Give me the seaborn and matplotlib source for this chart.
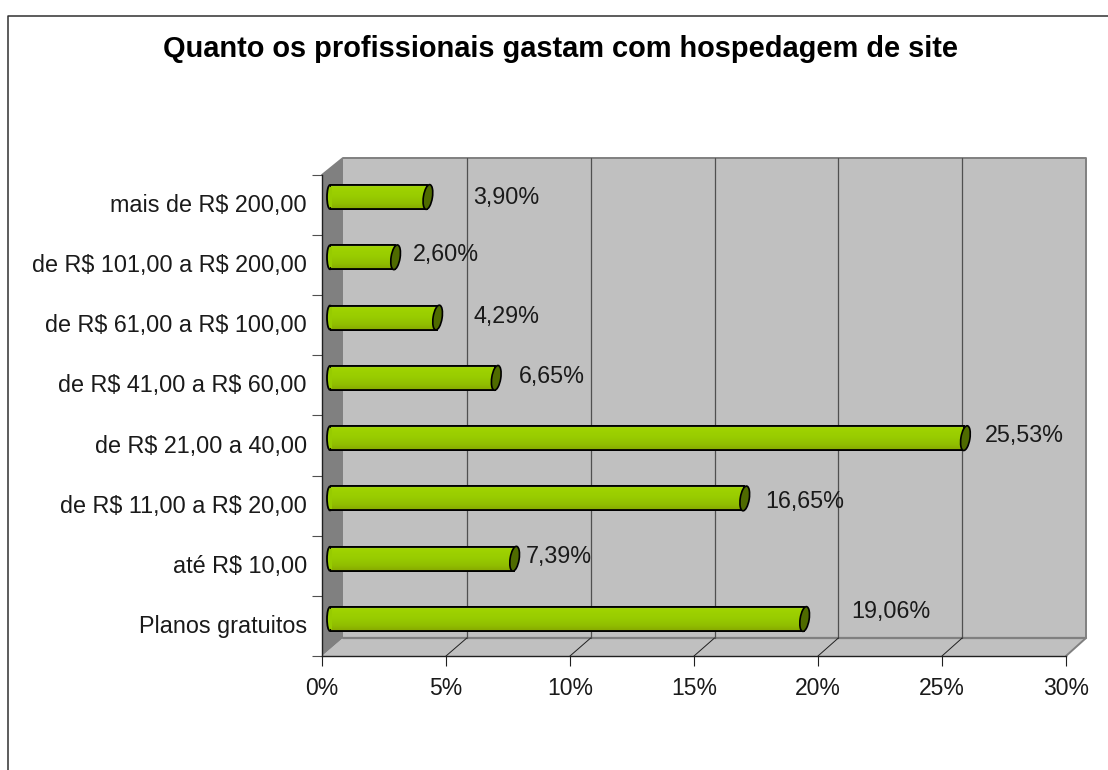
import numpy as np
import pandas as pd
import seaborn as sns
import matplotlib
matplotlib.use("Agg")
import matplotlib.pyplot as plt
from matplotlib.patches import Ellipse, Polygon, Rectangle
from matplotlib.transforms import IdentityTransform

categories = ["mais de R$ 200,00", "de R$ 101,00 a R$ 200,00", "de R$ 61,00 a R$ 100,00",
              "de R$ 41,00 a R$ 60,00", "de R$ 21,00 a 40,00", "de R$ 11,00 a R$ 20,00",
              "até R$ 10,00", "Planos gratuitos"]
values = [3.90, 2.60, 4.29, 6.65, 25.53, 16.65, 7.39, 19.06]
value_labels = ["3,90%", "2,60%", "4,29%", "6,65%", "25,53%", "16,65%", "7,39%", "19,06%"]
x_ticks = [0, 5, 10, 15, 20, 25, 30]
x_tick_labels = ["0%", "5%", "10%", "15%", "20%", "25%", "30%"]
title = "Quanto os profissionais gastam com hospedagem de site"

# label offsets from bar end to text baseline, in pixels (layout only; dy is upward)
label_dx = [46, 18.4, 36.4, 23.7, 20.6, 21.2, 12.4, 47.4]
label_dy = [-7, -4, -5.7, -5.4, -4.1, -9.5, -4.6, 0.7]

W, H = 1108, 770
TEXT = "#1a1a1a"
sns.set_theme(style="white")
plt.rcParams["font.family"] = ["Liberation Sans", "DejaVu Sans"]
fig = plt.figure(figsize=(W / 100, H / 100), dpi=100, facecolor="white")


def px_axes(x0, y_top, x1, y_bot, **kw):
    return fig.add_axes([x0 / W, 1 - y_bot / H, (x1 - x0) / W, (y_bot - y_top) / H], **kw)


# Backdrop in pixel coordinates: outer frame and 3-D walls
bg = fig.add_axes([0, 0, 1, 1])
bg.set_xlim(0, W)
bg.set_ylim(H, 0)
bg.axis("off")
bg.plot([7.5, 7.5, W], [H, 15.5, 15.5], color="#303030", lw=1.1, clip_on=False)

FX0, FX1, FY0, FY1 = 322, 1066, 175, 656   # front plane
BX0, BX1, BY0, BY1 = 343, 1086, 158, 638   # back wall
bg.add_patch(Rectangle((BX0, BY0), BX1 - BX0, BY1 - BY0, fc="#C0C0C0", ec="none"))
bg.add_patch(Polygon([(FX0, FY1), (FX1, FY1), (BX1, BY1), (BX0, BY1)], fc="#C0C0C0", ec="none"))
bg.add_patch(Polygon([(FX0, FY0), (BX0, BY0), (BX0, BY1), (FX0, FY1)], fc="#808080", ec="none"))
bg.plot([FX0, BX0, BX1, BX1, FX1], [FY0, BY0, BY0, BY1, FY1], color="#808080", lw=1.4)
bg.plot([BX0, BX1], [BY1, BY1], color="#808080", lw=1.6)
for t in x_ticks[1:-1]:
    fx = FX0 + (FX1 - FX0) * t / 30
    bx_ = BX0 + (BX1 - BX0) * t / 30
    bg.plot([bx_, bx_], [BY0, BY1], color="#505050", lw=0.9)
    bg.plot([fx, bx_], [FY1, BY1], color="#202020", lw=0.7)

# Front axes: ticks and labels
ax = px_axes(FX0, FY0, FX1, FY1)
ax.patch.set_alpha(0)
ax.set_xlim(0, 30)
ax.set_ylim(len(categories), 0)
for s in ["top", "right"]:
    ax.spines[s].set_visible(False)
for s in ["left", "bottom"]:
    ax.spines[s].set_color("#202020")
    ax.spines[s].set_linewidth(1.0)
ax.set_xticks(x_ticks, x_tick_labels, fontsize=16.5, color=TEXT)
ax.set_yticks(range(len(categories) + 1), [""] * (len(categories) + 1))
ax.tick_params(axis="x", length=7.2, width=0.8, color="#202020", pad=8, bottom=True)
ax.tick_params(axis="y", length=7.2, width=0.8, color="#505050", left=True)
for i, c in enumerate(categories):
    ax.annotate(c, xy=(0, i + 0.5), xycoords=("axes fraction", "data"), xytext=(-15, -7),
                textcoords="offset pixels", ha="right", va="baseline", fontsize=16.8,
                color=TEXT, parse_math=False)

# Bars axes: shifted plane on which the cylinders stand
bx = px_axes(330, 166.85, 330 + 24.85 * 30, 649.15)
bx.patch.set_alpha(0)
df = pd.DataFrame({"faixa": categories, "pct": values})
sns.barplot(data=df, x="pct", y="faixa", order=categories, orient="y", ax=bx, width=0.398,
            color="#99CC00", saturation=1, edgecolor="black", linewidth=1.3, zorder=3)
bx.set_xlim(0, 30)
bx.set_ylim(len(categories) - 0.5, -0.5)
bx.axis("off")

cmap = matplotlib.colors.LinearSegmentedColormap.from_list(
    "g", [(0, "#A3C94A"), (0.07, "#A0D400"), (0.5, "#97CB00"), (0.8, "#90BC00"), (1, "#86A800")])
gv = np.linspace(0, 1, 64).reshape(-1, 1)
px_per_unit = 24.85
for p, v, lab, dx, dy in zip(list(bx.patches), values, value_labels, label_dx, label_dy):
    y0, h = p.get_y(), p.get_height()
    yc = y0 + h / 2
    # rounded start
    bx.add_patch(Ellipse((0, yc), 6 / px_per_unit, h, fc="#97CB00", ec="black", lw=1.3,
                         zorder=2, clip_on=False))
    im = bx.imshow(gv, cmap=cmap, aspect="auto", extent=(0, v, y0 + h, y0), zorder=3.2,
                   interpolation="bilinear")
    im.set_clip_path(p)
    # outline back on top
    bx.add_patch(Rectangle((0, y0), v, h, fc="none", ec="black", lw=1.3, zorder=3.3))
    bx.add_patch(Rectangle((-0.02, y0 + 0.03), 0.1, h - 0.06, fc="#97CB00", ec="none",
                           zorder=3.4, clip_on=False))
    # end cap: a slightly tilted ellipse drawn in display space at the bar end
    bx.set_xlim(0, 30)
    bx.set_ylim(len(categories) - 0.5, -0.5)
    cx, cy = bx.transData.transform((v, yc))
    bx.add_artist(Ellipse((cx + 1, cy), 9, 25, angle=-9, fc="#4F6B00", ec="black", lw=1.2,
                          zorder=4, transform=IdentityTransform(), clip_on=False))
    bx.annotate(lab, xy=(v, yc), xytext=(dx, dy), textcoords="offset pixels",
                ha="left", va="baseline", fontsize=16.8, color=TEXT, zorder=6)
bx.set_xlim(0, 30)
bx.set_ylim(len(categories) - 0.5, -0.5)

fig.text(560.5 / W, 1 - 57 / H, title, ha="center", va="baseline", fontsize=20.9,
         fontweight="bold", color="black")

fig.savefig("out.png", dpi=100)
